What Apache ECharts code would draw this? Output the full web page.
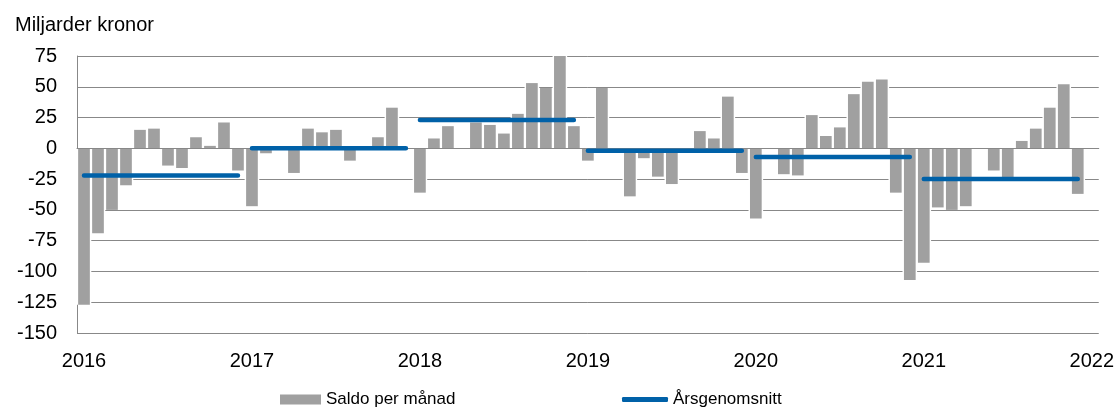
<!DOCTYPE html>
<html>
<head>
<meta charset="utf-8">
<script src="https://cdn.jsdelivr.net/npm/echarts@6/dist/echarts.min.js"></script>
<style>
  html, body { margin: 0; padding: 0; background: #fff; }
  #chart { width: 1117px; height: 408px; }
</style>
</head>
<body>
<div id="chart"></div>
<script>
// år som visas på x-axeln (2022 är bara en tom slutkategori)
const years = ["2016", "2017", "2018", "2019", "2020", "2021", "2022"];

// saldo per månad, miljarder kronor
const saldo2016 = [-127, -69, -50, -30, 15, 16, -14, -16, 9, 2, 21, -18];
const saldo2017 = [-47, -4, 0, -20, 16, 13, 15, -10, 0, 9, 33, 0];
const saldo2018 = [-36, 8, 18, 0, 21, 19, 12, 28, 53, 49, 75, 18];
const saldo2019 = [-10, 49, -2, -39, -8, -23, -29, -2, 14, 8, 42, -20];
const saldo2020 = [-57, 0, -21, -22, 27, 10, 17, 44, 54, 56, -36, -107];
const saldo2021 = [-93, -48, -50, -47, 0, -18, -24, 6, 16, 33, 52, -37];

// årsgenomsnitt per år
const avgPerYear = [-22, 0, 23, -2, -7, -25];

const yTicks = { min: -150, max: 75, step: 25 };

// bygg kategorier och serier
const monthly = [].concat(saldo2016, saldo2017, saldo2018, saldo2019, saldo2020, saldo2021);
const categories = [];
years.forEach((y, i) => {
  const n = i < years.length - 1 ? 12 : 1;
  for (let m = 1; m <= n; m++) categories.push(y + "-" + String(m).padStart(2, "0"));
});
const barData = monthly.concat(["-"]);

const blue = "#0061a8";
const lineSeries = avgPerYear.map((v, yi) => {
  const data = categories.map((c, i) => (i >= yi * 12 && i < yi * 12 + 12 ? v : "-"));
  return {
    name: "Årsgenomsnitt",
    type: "line",
    data: data,
    symbol: "none",
    z: 5,
    lineStyle: { color: blue, width: 4.5, cap: "round" },
    itemStyle: { color: blue },
  };
});

const font = "Liberation Sans, Arial, sans-serif";
const chart = echarts.init(document.getElementById("chart"));

const option = {
  animation: false,
  textStyle: { fontFamily: font },
  title: {
    text: "Miljarder kronor",
    left: 10,
    top: 10,
    textStyle: { fontSize: 20, fontWeight: "normal", color: "#000", fontFamily: font },
  },
  legend: [
    {
      data: ["Saldo per månad"],
      left: 275,
      top: 386,
      itemWidth: 41,
      itemHeight: 10,
      icon: "rect",
      textStyle: { fontSize: 17, color: "#000", fontFamily: font },
    },
    {
      data: ["Årsgenomsnitt"],
      left: 617,
      top: 386,
      itemWidth: 46,
      itemHeight: 5,
      icon: "roundRect",
      itemStyle: { color: blue },
      textStyle: { fontSize: 17, color: "#000", fontFamily: font },
    },
  ],
  grid: { left: 77, right: 18, top: 56, bottom: 75 },
  xAxis: [
    {
      type: "category",
      data: categories,
      axisLine: { show: false, onZero: false },
      axisTick: { show: false },
      axisLabel: {
        interval: 11,
        margin: 18,
        fontSize: 20,
        color: "#000",
        fontFamily: font,
        formatter: (v) => v.slice(0, 4),
      },
      splitLine: { show: false },
    },
    {
      // nollinje ovanpå staplarna
      type: "category",
      data: categories,
      position: "bottom",
      z: 3,
      axisLine: { show: true, onZero: true, lineStyle: { color: "#888", width: 1 } },
      axisTick: { show: false },
      axisLabel: { show: false },
    },
  ],
  yAxis: {
    type: "value",
    min: yTicks.min,
    max: yTicks.max,
    interval: yTicks.step,
    axisLine: { show: true, lineStyle: { color: "#888" } },
    axisTick: { show: false },
    axisLabel: { margin: 20, fontSize: 20, color: "#000", fontFamily: font },
    splitLine: { lineStyle: { color: "#888", width: 1 } },
  },
  series: [
    {
      // vit bakgrund bakom staplarna som bryter stödlinjerna
      name: "bakgrund",
      type: "bar",
      xAxisIndex: 1,
      data: barData,
      barWidth: 14.6,
      z: 1,
      silent: true,
      itemStyle: { color: "#fff" },
    },
    {
      name: "Saldo per månad",
      type: "bar",
      data: barData,
      barWidth: 11.7,
      z: 2,
      itemStyle: { color: "#a0a0a0" },
    },
  ].concat(lineSeries),
};

chart.setOption(option);
</script>
</body>
</html>
